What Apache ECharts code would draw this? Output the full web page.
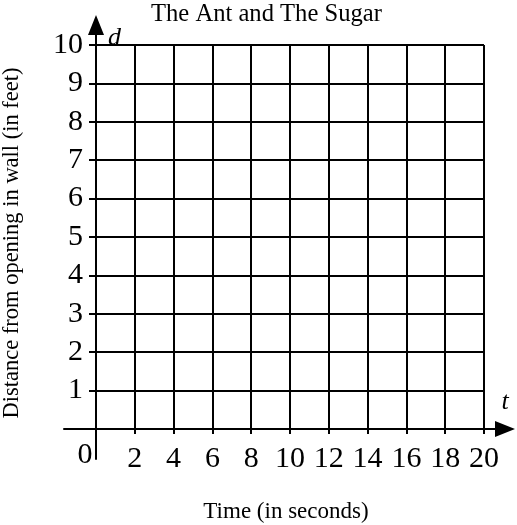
<!DOCTYPE html>
<html>
<head>
<meta charset="utf-8">
<script src="https://cdn.jsdelivr.net/npm/echarts@6/dist/echarts.min.js"></script>
<style>
  html, body { margin: 0; padding: 0; background: #fff; }
  #chart { width: 517px; height: 525px; }
</style>
</head>
<body>
<div id="chart"></div>
<script>
// tick values
const xTicks = [0, 2, 4, 6, 8, 10, 12, 14, 16, 18, 20];
const yTicks = [0, 1, 2, 3, 4, 5, 6, 7, 8, 9, 10];
const titleText = 'The Ant and The Sugar';
const xName = 'Time (in seconds)';
const yName = 'Distance from opening in wall (in feet)';

const serif = '"Liberation Serif", "Times New Roman", serif';

// plot box in pixels
const boxL = 96, boxT = 45, boxW = 388, boxH = 384;
const xMin = xTicks[0], xMax = xTicks[xTicks.length - 1];
const yMin = yTicks[0], yMax = yTicks[yTicks.length - 1];
const pxX = boxW / (xMax - xMin), pxY = boxH / (yMax - yMin);

// the arrowed axes reach past the grid (arrow centred on line end)
const axL = 64, axR = 505, axT = 25, axB = 459;

const chart = echarts.init(document.getElementById('chart'), null, { renderer: 'canvas' });

const black = '#000';

chart.setOption({
  animation: false,
  backgroundColor: '#fff',
  title: {
    text: titleText,
    left: 151,
    top: 2,
    padding: 0,
    textStyle: { fontFamily: serif, fontSize: 24.6, fontWeight: 'normal', color: black }
  },
  grid: [
    { left: boxL, top: boxT, width: boxW, height: boxH, outerBoundsMode: 'none', containLabel: false },
    { left: axL, top: axT, width: axR - axL, height: axB - axT, outerBoundsMode: 'none', containLabel: false }
  ],
  xAxis: [{
    type: 'value', gridIndex: 0,
    min: xMin, max: xMax, interval: xTicks[1] - xTicks[0],
    name: xName, nameLocation: 'middle', nameGap: 71,
    nameTextStyle: { fontFamily: serif, fontSize: 23, color: black, padding: [0, 8, 0, 0] },
    axisLine: { show: true, lineStyle: { color: black, width: 2 } },
    axisTick: { show: true, length: 5, lineStyle: { color: black, width: 2 } },
    splitLine: { show: true, lineStyle: { color: black, width: 2 } },
    axisLabel: {
      margin: 15, color: black, fontFamily: serif, fontSize: 30,
      formatter: v => v === 0 ? '{z|0}' : String(v),
      rich: { z: { fontFamily: serif, fontSize: 30, color: black, padding: [0, 22, 0, 0], lineHeight: 22 } }
    }
  }, {
    type: 'value', gridIndex: 1,
    min: xMin - (boxL - axL) / pxX,
    max: xMax + (axR - boxL - boxW) / pxX,
    name: 't', nameLocation: 'end', nameGap: 0,
    nameTextStyle: { fontFamily: serif, fontSize: 26, fontStyle: 'italic', color: black, align: 'center', verticalAlign: 'bottom', padding: [0, 0, 14, 0] },
    axisLine: { show: true, onZero: true, symbol: ['none', 'triangle'], symbolSize: [16, 20], lineStyle: { color: black, width: 2 } },
    axisTick: { show: false }, axisLabel: { show: false }, splitLine: { show: false }
  }],
  yAxis: [{
    type: 'value', gridIndex: 0,
    min: yMin, max: yMax, interval: yTicks[1] - yTicks[0],
    name: yName, nameLocation: 'middle', nameGap: 72,
    nameTextStyle: { fontFamily: serif, fontSize: 22.5, color: black, padding: [0, 12, 0, 0] },
    axisLine: { show: true, lineStyle: { color: black, width: 2 } },
    axisTick: { show: true, length: 7, lineStyle: { color: black, width: 2 } },
    splitLine: { show: true, lineStyle: { color: black, width: 2 } },
    axisLabel: {
      margin: 13, color: black, fontFamily: serif, fontSize: 30,
      formatter: v => v === 0 ? '' : String(v)
    }
  }, {
    type: 'value', gridIndex: 1,
    min: yMin - (axB - boxT - boxH) / pxY,
    max: yMax + (boxT - axT) / pxY,
    name: 'd', nameLocation: 'end', nameGap: 0,
    nameTextStyle: { fontFamily: serif, fontSize: 26, fontStyle: 'italic', color: black, align: 'left', verticalAlign: 'top', padding: [0, 0, 0, 12] },
    axisLine: { show: true, onZero: true, symbol: ['none', 'triangle'], symbolSize: [16, 20], lineStyle: { color: black, width: 2 } },
    axisTick: { show: false }, axisLabel: { show: false }, splitLine: { show: false }
  }],
  series: [
    { type: 'line', xAxisIndex: 0, yAxisIndex: 0, data: [] }
  ]
});
</script>
</body>
</html>
